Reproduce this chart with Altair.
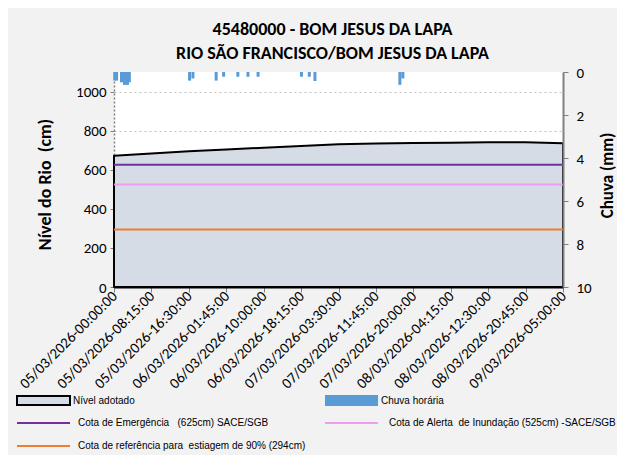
import altair as alt
import pandas as pd

# ---------------- data ----------------
x_labels = [
    "05/03/2026-00:00:00", "05/03/2026-08:15:00", "05/03/2026-16:30:00",
    "06/03/2026-01:45:00", "06/03/2026-10:00:00", "06/03/2026-18:15:00",
    "07/03/2026-03:30:00", "07/03/2026-11:45:00", "07/03/2026-20:00:00",
    "08/03/2026-04:15:00", "08/03/2026-12:30:00", "08/03/2026-20:45:00",
    "09/03/2026-05:00:00",
]
level_idx = list(range(13))
level_cm = [672, 683, 694, 703, 713, 721, 730, 734, 737, 738, 740, 741, 736]

rain_idx = [0.02, 0.07, 0.20, 0.28, 0.36, 0.41, 2.02, 2.11, 2.73, 2.93,
            3.31, 3.58, 3.85, 5.01, 5.22, 5.37, 7.64, 7.72]
rain_mm = [0.40, 0.40, 0.48, 0.60, 0.60, 0.48, 0.40, 0.30, 0.40, 0.22,
           0.22, 0.22, 0.22, 0.22, 0.22, 0.42, 0.60, 0.30]

ref_names = ["Cota de Emergência   (625cm) SACE/SGB",
             "Cota de Alerta  de Inundação (525cm) -SACE/SGB",
             "Cota de referência para  estiagem de 90% (294cm)"]
ref_values = [625, 525, 294]
ref_colors = ["#7030a0", "#f09cf0", "#ed7d31"]

title_lines = ["45480000  - BOM JESUS DA LAPA", "RIO SÃO FRANCISCO/BOM JESUS DA LAPA"]
left_title = "Nível do Rio  (cm)"
right_title = "Chuva (mm)"
left_ticks = [0, 200, 400, 600, 800, 1000]
right_ticks = [0, 2, 4, 6, 8, 10]

# ---------------- style ----------------
FONT = "Carlito, Lato, sans-serif"
LFONT = "Liberation Sans, Arial, sans-serif"
W, H = 449, 215
AREA_FILL = "#d6dce5"
RAIN_BLUE = "#5b9bd5"
NB = "\u00a0"

level_df = pd.DataFrame({"idx": level_idx, "level": level_cm})
rain_df = pd.DataFrame({"idx": rain_idx, "mm": rain_mm})
ref_df = pd.DataFrame({"name": ref_names, "value": ref_values, "color": ref_colors})

x_scale = alt.Scale(domain=[0, 12], nice=False, zero=False, padding=0)
label_expr = "[" + ",".join("'" + l + "'" for l in x_labels) + "][datum.value]"

x_axis = alt.Axis(
    values=level_idx, labelExpr=label_expr, labelAngle=-45, labelAlign="right",
    labelBaseline="middle", labelFont=FONT, labelFontSize=15, labelColor="#000",
    tickColor="#808080", tickSize=5, domainColor="#000", domainWidth=2,
    grid=False, title=None, labelPadding=1, labelOverlap=False, labelBound=False,
    labelFlush=False,
)

y_left_axis = alt.Axis(
    values=left_ticks, format="d", labelFont=FONT, labelFontSize=15, labelColor="#000",
    tickColor="#808080", tickSize=4, domainColor="#808080", domainDash=[2, 2],
    domainWidth=1.5, grid=True, gridColor="#bfbfbf", gridDash=[2, 3], gridWidth=1.2,
    title=left_title.replace(" ", NB), titleFont=FONT, titleFontSize=18,
    titleFontWeight="bold", titleColor="#000", titleX=-69, titleY=112,
    titleAngle=270, titleAlign="center", titleBaseline="middle", labelPadding=4,
)

y_right_axis = alt.Axis(
    orient="right", values=right_ticks, labelFont=FONT, labelFontSize=15,
    labelColor="#000", tickColor="#808080", tickSize=5, domainColor="#808080",
    domainWidth=2, grid=False, title=right_title, titleFont=FONT,
    titleFontSize=17, titleFontWeight="bold", titleColor="#000", titleX=44,
    titleY=103, titleAngle=270, titleAlign="center", titleBaseline="middle",
    labelPadding=8, zindex=1,
)

area = alt.Chart(level_df).mark_area(
    fill=AREA_FILL, stroke="#000", strokeWidth=2, strokeJoin="round"
).encode(
    x=alt.X("idx:Q", scale=x_scale, axis=x_axis),
    y=alt.Y("level:Q", scale=alt.Scale(domain=[0, 1100], nice=False), axis=y_left_axis),
)

rules = alt.Chart(ref_df).mark_rule(strokeWidth=2).encode(
    y=alt.Y("value:Q"),
    color=alt.Color("color:N", scale=None),
)

level_layer = alt.layer(area, rules)

rain = alt.Chart(rain_df).mark_bar(size=3, color=RAIN_BLUE).encode(
    x=alt.X("idx:Q", scale=x_scale, axis=x_axis),
    y=alt.Y("mm:Q", scale=alt.Scale(domain=[0, 10], reverse=True, nice=False), axis=y_right_axis),
)

main = alt.layer(level_layer, rain).resolve_scale(y="independent")

# ---------------- legend (layout positions relative to plot origin) ----------------
def one(label):
    return pd.DataFrame({"label": [label.replace(" ", NB)]})

legend_layers = []
legend_layers.append(
    alt.Chart(one("Nível adotado")).mark_rect(fill=AREA_FILL, stroke="#000", strokeWidth=2).encode(
        x=alt.value(-97), x2=alt.value(-44), y=alt.value(324), y2=alt.value(333))
)
legend_layers.append(
    alt.Chart(one("Chuva horária")).mark_rect(fill=RAIN_BLUE).encode(
        x=alt.value(211), x2=alt.value(264), y=alt.value(323), y2=alt.value(334))
)
text_pos = [("Nível adotado", -41, 329), ("Chuva horária", 267, 329),
            (ref_names[0], -36, 351), (ref_names[1], 275, 351), (ref_names[2], -36, 374)]
line_pos = [(-97, -44, 351), (211, 264, 351), (-97, -44, 374)]
for i, (x1, x2, yy) in enumerate(line_pos):
    legend_layers.append(
        alt.Chart(one(ref_names[i])).mark_rule(strokeWidth=2, color=ref_colors[i]).encode(
            x=alt.value(x1), x2=alt.value(x2), y=alt.value(yy))
    )
for label, xx, yy in text_pos:
    legend_layers.append(
        alt.Chart(one(label)).mark_text(
            font=LFONT, fontSize=10, align="left", baseline="middle", color="#000"
        ).encode(x=alt.value(xx), y=alt.value(yy), text="label:N")
    )

chart = alt.layer(main, *legend_layers).properties(
    width=W, height=H,
    title=alt.TitleParams(
        text=title_lines, font=FONT, fontSize=18, fontWeight="bold", color="#000",
        anchor="middle", frame="group", dx=-6, offset=2, lineHeight=24,
    ),
    background="#f2f2f2",
    autosize=alt.AutoSizeParams(type="none"),
    padding={"left": 106, "top": 64, "right": 54, "bottom": 168},
).configure_view(strokeWidth=0, fill="white")

chart.save("out.html", embed_options={"renderer": "svg", "actions": False})
